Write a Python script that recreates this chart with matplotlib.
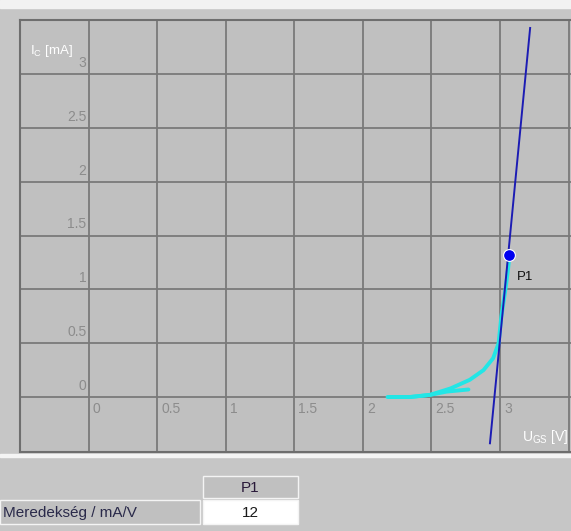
import numpy as np
import matplotlib
matplotlib.use("Agg")
import matplotlib.pyplot as plt
from matplotlib.patches import Rectangle

plt.rcParams['font.family'] = ['Liberation Sans', 'DejaVu Sans']

# characteristic curves (U_GS in V, I_C in mA)
up_x = [2.19, 2.34, 2.49, 2.64, 2.78, 2.88, 2.95, 2.99, 3.01, 3.04, 3.06, 3.07]
up_y = [0.00, 0.00, 0.02, 0.08, 0.16, 0.25, 0.36, 0.50, 0.75, 1.00, 1.20, 1.32]
low_x = [2.18, 2.35, 2.49, 2.61, 2.77]
low_y = [0.00, 0.00, 0.02, 0.05, 0.07]

# tangent line at the working point
tan_x = [2.927, 3.22]
tan_y = [-0.43, 3.43]

p1_x, p1_y = 3.065, 1.32
p1_label = "P1"
slope_label = "Meredekség / mA/V"
slope_value = "12"

x_ticks = [0, 0.5, 1, 1.5, 2, 2.5, 3]
y_ticks = [0, 0.5, 1, 1.5, 2, 2.5, 3]
tick_labels = ["0", "0.5", "1", "1.5", "2", "2.5", "3"]

W, H = 571, 531
fig = plt.figure(figsize=(W / 100, H / 100), dpi=100)
fig.patch.set_facecolor('#c6c6c6')

def px(x, y, w, h):
    # pixel box (from top-left) -> figure fraction rect
    return (x / W, 1 - (y + h) / H, w / W, h / H)

# top white strip and separator
fig.patches.append(Rectangle(px(0, 0, W, 8)[:2], 1, 8 / H, transform=fig.transFigure,
                             color='#f2f2f2', zorder=0))
fig.patches.append(Rectangle(px(0, 454, W, 3)[:2], 1, 3 / H, transform=fig.transFigure,
                             color='#f4f4f4', zorder=0))

ax = fig.add_axes([20 / W, (H - 452) / H, (W - 20) / W, 432 / H])
ax.set_facecolor('#c0c0c0')
ax.set_xlim(-0.5, 3.518)
ax.set_ylim(-0.511, 3.504)
ax.set_xticks([])
ax.set_yticks([])
for s in ax.spines.values():
    s.set_color('#6e6e6e')
    s.set_linewidth(1.5)
ax.spines['right'].set_visible(False)

for g in np.arange(0, 3.6, 0.5):
    ax.axvline(g, color='#7a7a7a', lw=1.3, zorder=1)
    ax.axhline(g, color='#7a7a7a', lw=1.3, zorder=1)

for v, t in zip(y_ticks, tick_labels):
    ax.text(-0.015, v + 0.04, t, ha='right', va='bottom', fontsize=10, color='#8c8c8c')
for v, t in zip(x_ticks, tick_labels):
    ax.text(v + 0.03, -0.05, t, ha='left', va='top', fontsize=10, color='#8c8c8c')

ax.text(-0.43, 3.22, r'$\mathregular{I_C}$ [mA]', ha='left', va='center',
        fontsize=9.5, color='white')
ax.text(3.5, -0.37, r'$\mathregular{U_{GS}}$ [V]', ha='right', va='center',
        fontsize=10, color='white')

ax.plot(tan_x, tan_y, color='#1c1cb4', lw=1.4, zorder=3)
ax.plot(up_x, up_y, color='#22e6e6', lw=2.8, zorder=2, solid_capstyle='round')
ax.plot(low_x, low_y, color='#22e6e6', lw=2.8, zorder=2, solid_capstyle='round')
ax.plot([p1_x], [p1_y], 'o', color='#0000f0', mec='white', mew=0.8, ms=8.5, zorder=4)
ax.text(p1_x + 0.06, p1_y - 0.2, p1_label, ha='left', va='center', fontsize=9.5, color='#111111')

# small table under the chart
def cell(x, y, w, h, fc, text, ha='center', color='#1a1a1a'):
    r = Rectangle(px(x, y, w, h)[:2], w / W, h / H, transform=fig.transFigure,
                  facecolor=fc, edgecolor='#f4f4f4', lw=1.0)
    fig.patches.append(r)
    tx = x + w / 2 if ha == 'center' else x + 3
    fig.text(tx / W, 1 - (y + h / 2 + 1) / H, text, ha=ha, va='center',
             fontsize=11, color=color)

cell(203, 476, 95, 22, '#c0c0c0', p1_label, color='#2a1a3a')
cell(0, 500, 200, 24, '#c0c0c0', slope_label, ha='left', color='#2a2a4a')
cell(203, 500, 95, 24, '#ffffff', slope_value)

fig.savefig('out.png', dpi=100, facecolor=fig.get_facecolor())
